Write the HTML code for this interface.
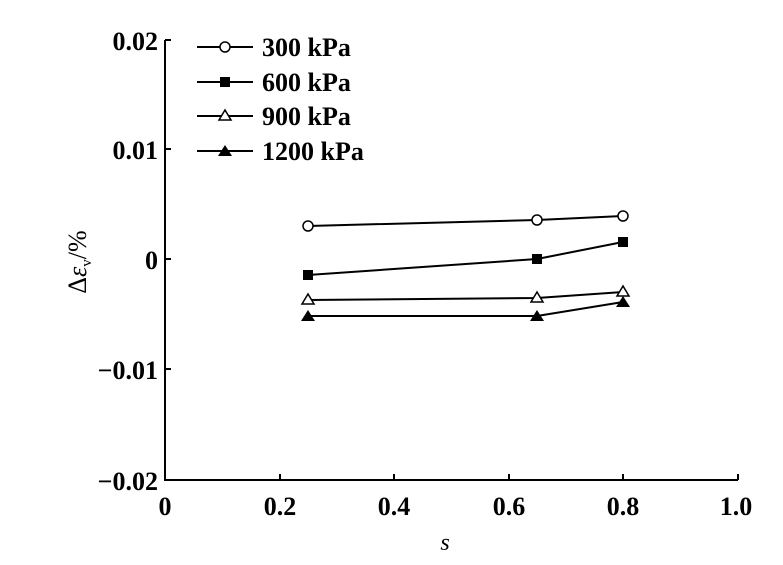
<!DOCTYPE html><html><head><style>body{margin:0;background:#fff}</style></head><body>
<svg width="783" height="560" xmlns="http://www.w3.org/2000/svg" font-family="Liberation Serif, serif" font-size="26" font-weight="bold">
<g stroke="#000" stroke-width="2" fill="none">
<polyline points="165,40 165,480 738,480"/>
<line x1="165" y1="40" x2="171" y2="40"/><line x1="165" y1="149" x2="171" y2="149"/><line x1="165" y1="259" x2="171" y2="259"/><line x1="165" y1="369" x2="171" y2="369"/>
<line x1="280" y1="480" x2="280" y2="474"/><line x1="394" y1="480" x2="394" y2="474"/><line x1="509" y1="480" x2="509" y2="474"/><line x1="623" y1="480" x2="623" y2="474"/><line x1="738" y1="480" x2="738" y2="474"/>
</g>
<g text-anchor="end"><text x="158" y="50">0.02</text><text x="158" y="159">0.01</text><text x="158" y="269">0</text><text x="158" y="379">−0.01</text><text x="158" y="490">−0.02</text></g>
<g text-anchor="middle"><text x="165" y="515">0</text><text x="280" y="515">0.2</text><text x="394" y="515">0.4</text><text x="509" y="515">0.6</text><text x="623" y="515">0.8</text><text x="736" y="515">1.0</text>
<text x="445" y="550" font-style="italic" font-weight="normal" font-size="24">s</text></g>
<text transform="translate(86,262) rotate(-90)" text-anchor="middle" font-weight="normal" font-size="26">Δ<tspan font-style="italic">ε</tspan><tspan font-size="15" dy="5">v</tspan><tspan dy="-5">/%</tspan></text>
<g stroke="#000" stroke-width="2" fill="none">
<polyline points="308,226 537,220 623,216"/><polyline points="308,275 537,259 623,242"/><polyline points="308,300 537,298 623,292"/><polyline points="308,316 537,316 623,302"/>
<line x1="197" y1="47" x2="253" y2="47"/><line x1="197" y1="82" x2="253" y2="82"/><line x1="197" y1="116" x2="253" y2="116"/><line x1="197" y1="151" x2="253" y2="151"/>
</g>
<g stroke="#000" stroke-width="1.5" fill="#fff">
<circle cx="308" cy="226" r="5"/><circle cx="537" cy="220" r="5"/><circle cx="623" cy="216" r="5"/><circle cx="225" cy="47" r="5"/>
<polygon points="308,294 302,304 314,304"/><polygon points="537,292 531,302 543,302"/><polygon points="623,286 617,296 629,296"/><polygon points="225,110 219,120 231,120"/>
</g>
<g fill="#000">
<rect x="303" y="270" width="10" height="10"/><rect x="532" y="254" width="10" height="10"/><rect x="618" y="237" width="10" height="10"/><rect x="220" y="77" width="10" height="10"/>
<polygon points="308,310 301,321 315,321"/><polygon points="537,310 530,321 544,321"/><polygon points="623,296 616,307 630,307"/><polygon points="225,145 218,156 232,156"/>
</g>
<g><text x="262" y="56">300 kPa</text><text x="262" y="91">600 kPa</text><text x="262" y="125">900 kPa</text><text x="262" y="160">1200 kPa</text></g>
</svg></body></html>
